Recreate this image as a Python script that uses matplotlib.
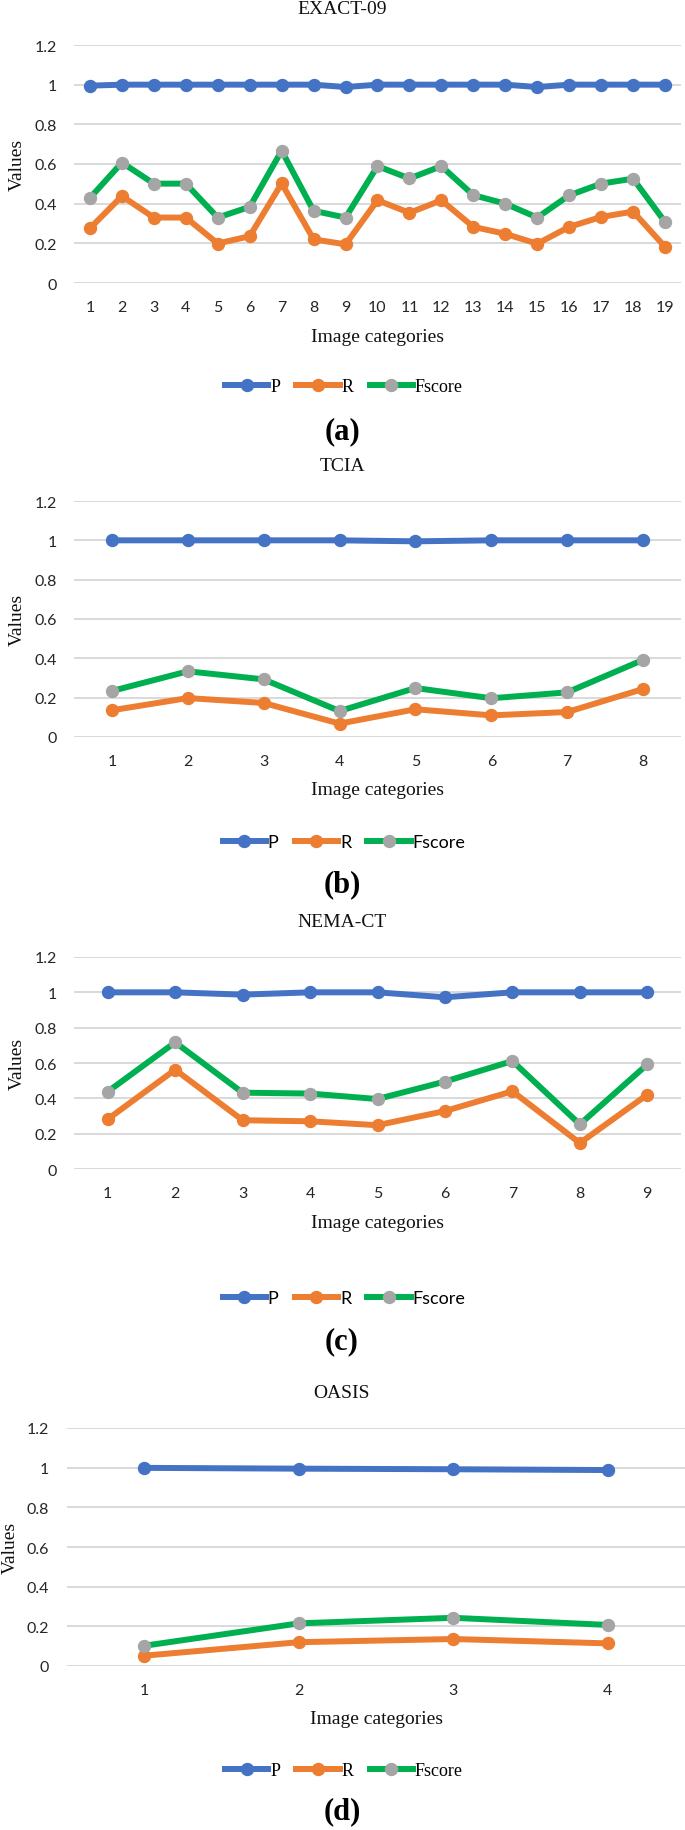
import matplotlib
matplotlib.use("Agg")
import matplotlib.pyplot as plt
from matplotlib.lines import Line2D

W, H = 685, 1831
DPI = 100

# ---------------- data ----------------
titles = ["EXACT-09", "TCIA", "NEMA-CT", "OASIS"]
panel_labels = ["(a)", "(b)", "(c)", "(d)"]

a_cats = list(range(1, 20))
a_P = [0.995, 1.0, 1.0, 1.0, 1.0, 1.0, 1.0, 1.0, 0.988, 1.0, 1.0, 1.0, 1.0, 1.0, 0.988, 1.0, 1.0, 1.0, 1.0]
a_R = [0.276, 0.438, 0.330, 0.330, 0.199, 0.236, 0.502, 0.220, 0.195, 0.417, 0.354, 0.417, 0.283, 0.248, 0.198, 0.283, 0.333, 0.360, 0.182]
a_F = [0.429, 0.607, 0.501, 0.501, 0.330, 0.384, 0.667, 0.364, 0.330, 0.589, 0.527, 0.589, 0.443, 0.400, 0.330, 0.442, 0.501, 0.526, 0.308]

b_cats = list(range(1, 9))
b_P = [1.0, 1.0, 1.0, 1.0, 0.995, 1.0, 1.0, 1.0]
b_R = [0.136, 0.198, 0.173, 0.068, 0.141, 0.110, 0.127, 0.244]
b_F = [0.234, 0.334, 0.293, 0.132, 0.249, 0.197, 0.227, 0.392]

c_cats = list(range(1, 10))
c_P = [1.0, 1.0, 0.987, 1.0, 1.0, 0.972, 1.0, 1.0, 1.0]
c_R = [0.282, 0.562, 0.276, 0.270, 0.248, 0.328, 0.440, 0.147, 0.421]
c_F = [0.438, 0.717, 0.432, 0.427, 0.396, 0.495, 0.611, 0.253, 0.592]

d_cats = list(range(1, 5))
d_P = [0.999, 0.995, 0.992, 0.988]
d_R = [0.052, 0.120, 0.136, 0.114]
d_F = [0.102, 0.215, 0.243, 0.207]

yticks = [0, 0.2, 0.4, 0.6, 0.8, 1.0, 1.2]
ytick_labels = ["0", "0.2", "0.4", "0.6", "0.8", "1", "1.2"]
series_names = ["P", "R", "Fscore"]

# ---------------- style ----------------
C_P = "#4472C4"
C_R = "#ED7D31"
C_F = "#00B050"
C_FM = "#A5A5A5"
GRID = "#D9D9D9"
SERIF = ["Liberation Serif", "DejaVu Serif"]
SANS = ["Lato", "DejaVu Sans"]
LW = 4.3
MS = 8.6

# layout in pixels
layout = [
    (74, 681, 46, 284, 10, 337, 388, 432, "serif", 57, 17),
    (74, 681, 502, 738, 467, 791, 843, 885, "sans", 57, 17),
    (74, 681, 958, 1170, 923, 1223, 1299, 1342, "sans", 57, 17),
    (67, 685, 1429, 1667, 1394, 1720, 1772, 1812, "serif", 49, 10),
]
datasets = [
    (a_cats, a_P, a_R, a_F),
    (b_cats, b_P, b_R, b_F),
    (c_cats, c_P, c_R, c_F),
    (d_cats, d_P, d_R, d_F),
]

fig = plt.figure(figsize=(W / DPI, H / DPI), dpi=DPI)
fig.patch.set_facecolor("white")


def fx(x):
    return x / W


def fy(y):
    return 1 - y / H


PT = 72 / DPI  # points per pixel

for i, ((cats, P, R, F), lay) in enumerate(zip(datasets, layout)):
    left, right, top, bot, ty, xly, lgy, ply, lgfont, ytr, ylx = lay
    ax = fig.add_axes([fx(left), fy(bot), (right - left) / W, (bot - top) / H])
    n = len(cats)
    xs = list(range(n))
    ax.set_xlim(-0.5, n - 0.5)
    ax.set_ylim(0, 1.2)
    for s in ax.spines.values():
        s.set_visible(False)
    ax.set_yticks(yticks)
    ax.set_yticklabels(ytick_labels, family=SANS, fontsize=11.5, color="#262626")
    ax.set_xticks(xs)
    ax.set_xticklabels([str(c) for c in cats], family=SANS, fontsize=11.5, color="#262626")
    ax.tick_params(axis="both", length=0)
    ax.tick_params(axis="y", pad=(left - ytr) * PT)
    ax.tick_params(axis="x", pad=24 * PT)
    for lbl in ax.get_xticklabels():
        lbl.set_va("center")
    ax.yaxis.grid(True, color=GRID, linewidth=1.4)
    ax.set_axisbelow(True)

    ax.plot(xs, P, color=C_P, lw=LW, marker="o", ms=MS, mfc=C_P, mec=C_P, clip_on=False, zorder=3,
            solid_capstyle="round", solid_joinstyle="round")
    ax.plot(xs, R, color=C_R, lw=LW, marker="o", ms=MS, mfc=C_R, mec=C_R, clip_on=False, zorder=4,
            solid_capstyle="round", solid_joinstyle="round")
    ax.plot(xs, F, color=C_F, lw=LW, marker="o", ms=MS, mfc=C_FM, mec=C_FM, clip_on=False, zorder=5,
            solid_capstyle="round", solid_joinstyle="round")

    fig.text(fx(342), fy(ty), titles[i], ha="center", va="center", family=SERIF, fontsize=14, color="#111111")
    fig.text(fx((left + right) / 2), fy(xly), "Image categories", ha="center", va="center",
             family=SERIF, fontsize=14, color="#111111")
    fig.text(fx(ylx), fy((top + bot) / 2), "Values", ha="center", va="center", rotation=90,
             family=SERIF, fontsize=14, color="#111111")

    handles = [
        Line2D([], [], color=C_P, lw=LW, marker="o", ms=MS, mfc=C_P, mec=C_P),
        Line2D([], [], color=C_R, lw=LW, marker="o", ms=MS, mfc=C_R, mec=C_R),
        Line2D([], [], color=C_F, lw=LW, marker="o", ms=MS, mfc=C_FM, mec=C_FM),
    ]
    lfam = SERIF if lgfont == "serif" else SANS
    fig.legend(handles, series_names, loc="center", bbox_to_anchor=(fx(344), fy(lgy)), ncol=3,
               frameon=False, prop={"family": lfam, "size": 13}, handlelength=2.4,
               handletextpad=0.1, columnspacing=0.9, borderaxespad=0, borderpad=0)

    fig.text(fx(342), fy(ply), panel_labels[i], ha="center", va="center", family=SERIF,
             fontsize=22, fontweight="bold", color="black")

fig.savefig("out.png", dpi=DPI, facecolor="white")
